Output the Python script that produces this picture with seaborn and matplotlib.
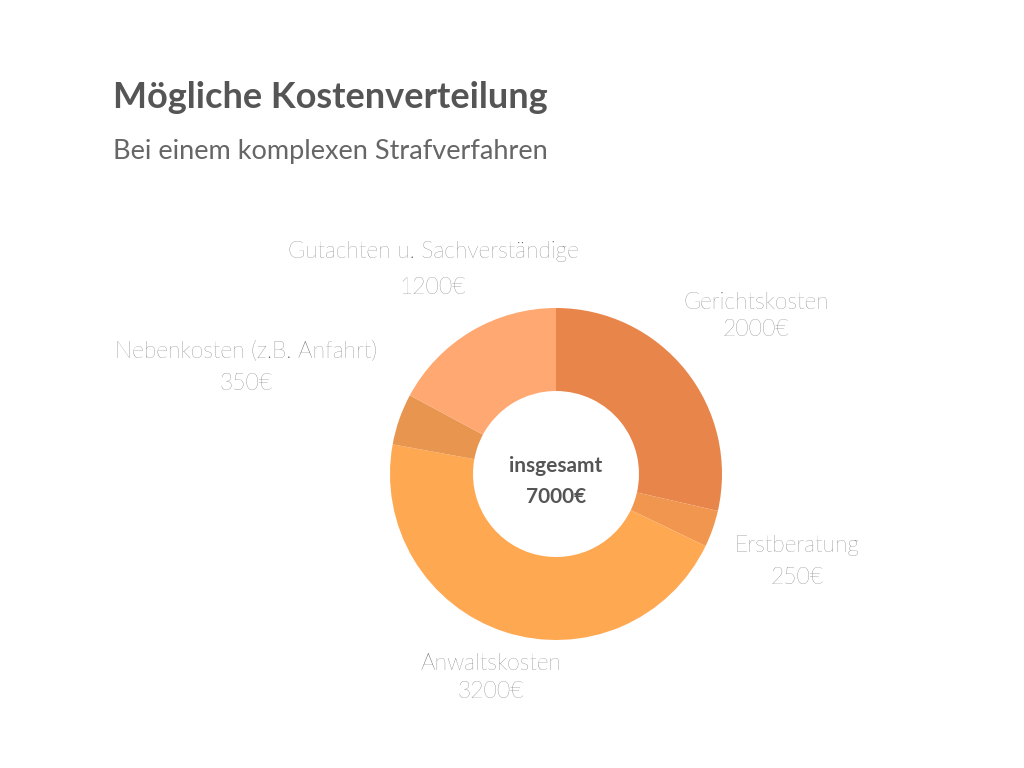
import matplotlib
matplotlib.use("Agg")
import matplotlib.pyplot as plt
import seaborn as sns

sns.set_theme(style="white", font="Lato")

categories = ["Gerichtskosten", "Erstberatung", "Anwaltskosten", "Nebenkosten (z.B. Anfahrt)", "Gutachten u. Sachverständige"]
values = [2000, 250, 3200, 350, 1200]
colors = ["#E8854A", "#F0964F", "#FFA852", "#E8954F", "#FFA872"]

W, H = 1024, 768
fig = plt.figure(figsize=(W/100, H/100), dpi=100)
cx, cy, r = 556, 474, 166
ax = fig.add_axes([(cx-r)/W, 1-(cy+r)/H, 2*r/W, 2*r/H])
ax.pie(values, colors=colors, startangle=90, counterclock=False, radius=1,
       wedgeprops=dict(width=0.5, edgecolor="none"))
ax.set_xlim(-1, 1)
ax.set_ylim(-1, 1)
ax.set_aspect("equal")
ax.axis("off")
ax.text(0, 0.05, "insgesamt", ha="center", va="center", fontsize=15, color="#555555", fontweight="bold")
ax.text(0, -0.14, f"{sum(values)}€", ha="center", va="center", fontsize=15, color="#555555", fontweight="bold")

def ft(x, y, s, **kw):
    fig.text(x/W, 1-y/H, s, ha="center", va="center", **kw)

fig.text(113/W, 1-97/H, "Mögliche Kostenverteilung", ha="left", va="center", fontsize=26, fontweight="bold", color="#555555")
fig.text(113/W, 1-151/H, "Bei einem komplexen Strafverfahren", ha="left", va="center", fontsize=19.5, color="#666666")

lab = dict(fontsize=16.5, color="#555555", fontweight="light")
pos = [(756, 302, 756, 329), (797, 545, 797, 577), (491, 664, 491, 692), (246, 352, 246, 383), (433, 252, 433, 287)]
for c, v, (x1, y1, x2, y2) in zip(categories, values, pos):
    ft(x1, y1, c, **lab)
    ft(x2, y2, f"{v}€", **lab)

fig.savefig("out.png", dpi=100, facecolor="white")
